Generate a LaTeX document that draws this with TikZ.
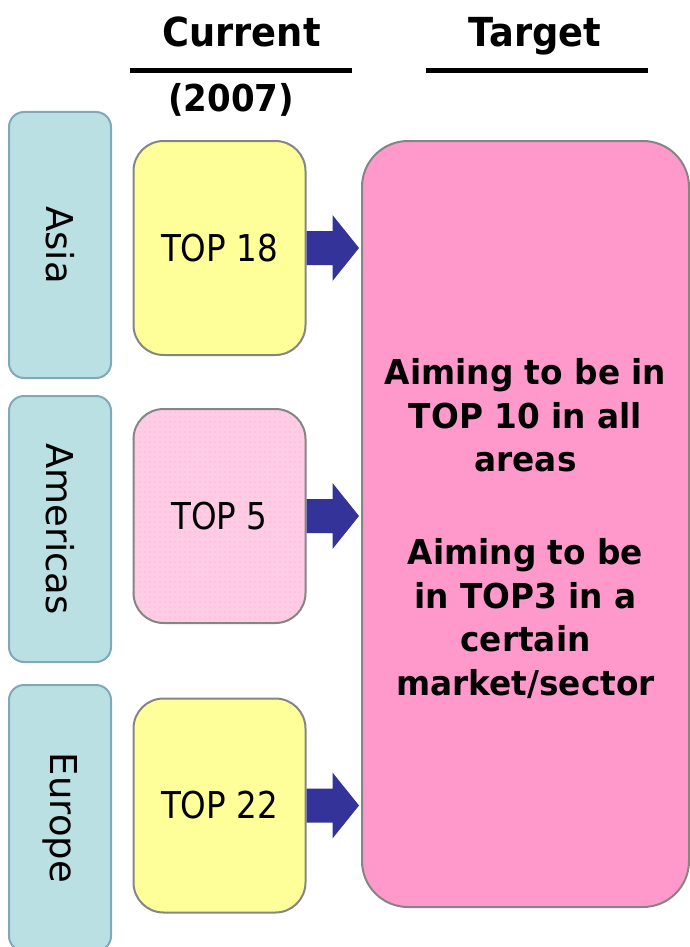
\documentclass[tikz,border=0pt]{standalone}
\usepackage{fontspec}
\setmainfont{DejaVu Sans}
\newfontfamily\headfont[FakeStretch=0.92]{DejaVu Sans}
\newfontfamily\bodyfont[FakeStretch=0.955]{DejaVu Sans}
\newfontfamily\boxfont[FakeStretch=0.88]{DejaVu Sans}
\usetikzlibrary{patterns.meta,calc}
\definecolor{tabfill}{HTML}{BBE0E3}
\definecolor{tabline}{HTML}{7FA9B8}
\definecolor{boxline}{HTML}{858585}
\definecolor{yel}{HTML}{FFFF99}
\definecolor{lpink}{HTML}{FFCCE6}
\definecolor{dotpink}{HTML}{FFA8D2}
\definecolor{dpink}{HTML}{FF99CC}
\definecolor{arrowc}{HTML}{333399}
\begin{document}
\begin{tikzpicture}[x=1pt,y=-1pt,
  tab/.style={draw=tabline,fill=tabfill,line width=2pt,rounded corners=15pt,
    minimum width=266pt,minimum height=102pt,inner sep=0pt,rotate=-90,
    font=\fontsize{37}{40}\selectfont},
  curbox/.style={draw=boxline,line width=2pt,rounded corners=30pt,
    minimum width=172pt,minimum height=214pt,inner sep=0pt,
    font=\boxfont\fontsize{37}{40}\selectfont},
  header/.style={anchor=base,inner sep=0pt,font=\headfont\bfseries\fontsize{40}{44}\selectfont},
  uline/.style={line width=5pt},
  bigarrow/.style={fill=arrowc}
]
\useasboundingbox (0,0) rectangle (690,947);
\clip (0,0) rectangle (690,947);

% headers
\node[header] (cur) at (241.5,47) {Current};
\node[header] (tgth) at (535,47) {Target};
\node[header,font=\headfont\bfseries\fontsize{37}{40}\selectfont] (yr) at (231,112) {(2007)};
\draw[uline] (130,70.5) -- (352,70.5);
\draw[uline] (426,70.5) -- (648,70.5);

% region tabs
\node[tab] (asia) at (60,245) {Asia};
\node[tab] (amer) at (60,529) {Americas};
\node[tab] (euro) at (60,818) {Europe};

% current boxes
\node[curbox,fill=yel] (b1) at (219.5,248) {TOP 18};
\node[curbox,preaction={fill=lpink},pattern={Dots[radius=0.6pt,distance=5pt]},pattern color=dotpink] (b2) at (219.5,516) {};
\node[inner sep=0pt,font=\boxfont\fontsize{37}{40}\selectfont] (b2t) at (b2.center) {TOP 5};
\node[curbox,fill=yel] (b3) at (219.5,805.5) {TOP 22};

% target box
\node[draw=boxline,fill=dpink,line width=2pt,rounded corners=46pt,
  minimum width=327pt,minimum height=766pt,inner sep=0pt] (tgt) at (525.5,524) {};
\node[align=center,inner sep=0pt,font=\bodyfont\bfseries\fontsize{34.3}{43.5}\selectfont] (tt) at (525.5,528.5)
 {Aiming to be in\\TOP 10 in all\\areas\\[49.5pt]Aiming to be\\in TOP3 in a\\certain\\market/sector};

% arrows
\foreach \b in {b1,b2,b3}{
  \fill[bigarrow] ($(\b.east)+(0,-17)$) -- ++(26,0) -- ++(0,-16)
    -- ($(\b.east -| tgt.west)+(-2,0)$)
    -- ($(\b.east)+(26,33)$) -- ++(0,-16) -- ($(\b.east)+(0,17)$) -- cycle;
}
\end{tikzpicture}
\end{document}
